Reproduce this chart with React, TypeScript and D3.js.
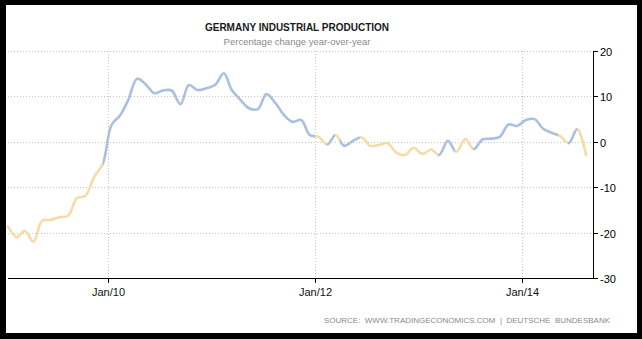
import React from "react";
import * as d3 from "d3";

// Monthly values, Jan 2009 .. Aug 2014 (percent change year-over-year)
const startYear = 2009;
const values: number[] = [
  -18.7, -21.0, -19.6, -22.0, -17.4, -17.2, -16.6, -16.3, -12.4, -11.9, -7.7, -4.9,
  3.7, 5.9, 9.2, 13.9, 12.7, 10.7, 11.3, 11.3, 8.3, 12.5, 11.4, 11.8,
  12.5, 15.1, 11.4, 9.2, 7.4, 7.2, 10.5, 8.6, 5.9, 4.4, 4.8, 1.5,
  1.1, -0.6, 1.5, -0.9, 0.2, 1.0, -0.9, -0.7, -0.3, -2.4, -2.9, -1.3,
  -2.7, -1.7, -2.9, 0.2, -2.2, 0.6, -1.6, 0.5, 0.7, 1.1, 3.8, 3.5,
  4.8, 5.0, 3.0, 2.0, 1.3, -0.3, 2.8, -2.9,
];

// Colour changes of the line (date where the new trend starts)
const trendBreakDates: string[] = [
  "2009-12-16", "2012-01-02", "2012-02-14", "2012-03-13", "2012-03-31", "2012-06-09",
  "2013-03-11", "2013-05-10", "2013-07-13", "2014-05-09", "2014-06-13", "2014-07-14",
];
const trendAfter: string[] = [
  "up", "down", "up", "down", "up", "down", "up", "down", "up", "down", "up", "down",
];
const firstTrend = "down";

const yTicks: number[] = [20, 10, 0, -10, -20, -30];
const xTickDates: string[] = ["2010-01-01", "2012-01-01", "2014-01-01"];
const xTickLabels: string[] = ["Jan/10", "Jan/12", "Jan/14"];

const title = "GERMANY INDUSTRIAL PRODUCTION";
const subtitle = "Percentage change year-over-year";
const source = "SOURCE:  WWW.TRADINGECONOMICS.COM  |  DEUTSCHE  BUNDESBANK";

const W = 642;
const H = 339;
const BLUE = "#a9c0df";
const ORANGE = "#f7dba6";

const parse = (s: string) => {
  const [y, m, d] = s.split("-").map(Number);
  return new Date(y, m - 1, d);
};

export default function App() {
  const data = values.map((v, i) => ({ date: new Date(startYear, i, 15), v }));
  const x = d3
    .scaleTime()
    .domain([data[0].date, data[data.length - 1].date])
    .range([8, 586]);
  const y = d3.scaleLinear().domain([-30, 20]).range([278, 51]);
  const plotLeft = 8;
  const plotRight = 593;

  const line = d3
    .line<{ date: Date; v: number }>()
    .x((d) => x(d.date))
    .y((d) => y(d.v))
    .curve(d3.curveCatmullRom.alpha(0.5));

  const col = (t: string) => (t === "up" ? BLUE : ORANGE);
  const stops: { off: number; c: string }[] = [];
  let cur = col(firstTrend);
  stops.push({ off: 0, c: cur });
  trendBreakDates.forEach((ds, i) => {
    const off = x(parse(ds)) / W;
    stops.push({ off, c: cur });
    cur = col(trendAfter[i]);
    stops.push({ off, c: cur });
  });
  stops.push({ off: 1, c: cur });

  return (
    <div style={{ position: "absolute", left: 0, top: 0 }}>
      <svg width={W} height={H} style={{ display: "block" }}>
        <defs>
          <linearGradient id="trend" gradientUnits="userSpaceOnUse" x1={0} x2={W} y1={0} y2={0}>
            {stops.map((s, i) => (
              <stop key={i} offset={s.off} stopColor={s.c} />
            ))}
          </linearGradient>
        </defs>
        <rect x={0} y={0} width={W} height={H} fill="#000" />
        <rect x={6} y={5} width={631} height={328} fill="#fff" />

        {/* horizontal grid */}
        {yTicks
          .filter((t) => t !== -30)
          .map((t) => (
            <line
              key={"hg" + t}
              x1={plotLeft}
              x2={plotRight}
              y1={Math.round(y(t)) + 0.5}
              y2={Math.round(y(t)) + 0.5}
              stroke="#c4c4c4"
              strokeDasharray="1,2"
            />
          ))}
        {/* vertical grid */}
        {xTickDates.map((ds) => {
          const xx = Math.round(x(parse(ds))) + 0.5;
          return (
            <line
              key={"vg" + ds}
              x1={xx}
              x2={xx}
              y1={y(20)}
              y2={y(-30)}
              stroke="#c4c4c4"
              strokeDasharray="1,2"
            />
          );
        })}

        {/* data line */}
        <path
          d={line(data) || ""}
          fill="none"
          stroke="url(#trend)"
          strokeWidth={2.6}
          strokeLinejoin="round"
          strokeLinecap="round"
        />

        {/* x axis */}
        <line x1={plotLeft} x2={plotRight} y1={278.5} y2={278.5} stroke="#000" />
        {xTickDates.map((ds, i) => {
          const xx = Math.round(x(parse(ds))) + 0.5;
          return (
            <g key={"xt" + ds}>
              <line x1={xx} x2={xx} y1={278} y2={283} stroke="#000" />
              <text
                x={xx}
                y={296}
                textAnchor="middle"
                fontFamily="Liberation Sans, Arial, sans-serif"
                fontSize={11}
                fill="#111"
              >
                {xTickLabels[i]}
              </text>
            </g>
          );
        })}

        {/* y axis */}
        <line x1={593.5} x2={593.5} y1={y(20)} y2={278.5} stroke="#000" />
        {yTicks.map((t) => {
          const yy = Math.round(y(t)) + 0.5;
          return (
            <g key={"yt" + t}>
              <line x1={593} x2={598} y1={yy} y2={yy} stroke="#000" />
              <text
                x={600}
                y={yy + 4}
                fontFamily="Liberation Sans, Arial, sans-serif"
                fontSize={11}
                fill="#000"
              >
                {t}
              </text>
            </g>
          );
        })}

        {/* titles */}
        <text
          x={297}
          y={31}
          textAnchor="middle"
          fontFamily="Liberation Sans, Arial, sans-serif"
          fontSize={10}
          fontWeight="bold"
          fill="#1a1a1a"
        >
          {title}
        </text>
        <text
          x={297}
          y={45}
          textAnchor="middle"
          fontFamily="Liberation Sans, Arial, sans-serif"
          fontSize={9.5}
          fill="#8a8a8a"
        >
          {subtitle}
        </text>
        <text
          x={610}
          y={323}
          textAnchor="end"
          fontFamily="Liberation Sans, Arial, sans-serif"
          fontSize={8}
          fill="#8a8a8a"
          style={{ whiteSpace: "pre" }}
        >
          {source}
        </text>
      </svg>
    </div>
  );
}
